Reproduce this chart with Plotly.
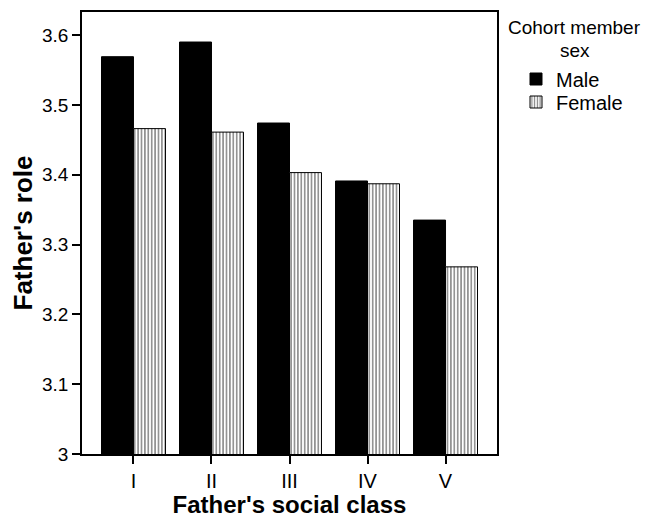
import plotly.graph_objects as go

categories = ["I", "II", "III", "IV", "V"]
male = [3.569, 3.590, 3.474, 3.391, 3.335]
female = [3.466, 3.461, 3.403, 3.387, 3.268]
y_ticks = [3, 3.1, 3.2, 3.3, 3.4, 3.5, 3.6]
y_tick_labels = ["3", "3.1", "3.2", "3.3", "3.4", "3.5", "3.6"]

FONT = "Liberation Sans, Arial, sans-serif"

# page has an 8px body margin; size figure so that it fills the 650x518 window
W, H = 642, 510
L, R, T, B = 74, 153, 4, 64
PW, PH = W - L - R, H - T - B


def px_x(px):
    return (px - L) / PW


def px_y(py):
    return 1 - (py - T) / PH


fig = go.Figure()
fig.add_trace(go.Bar(
    x=categories, y=male, name="Male", legend="legend",
    marker=dict(color="black", line=dict(color="black", width=1)),
))
fig.add_trace(go.Bar(
    x=categories, y=female, name="Female", legend="legend2",
    marker=dict(color="white", line=dict(color="black", width=1),
                pattern=dict(shape="|", fgcolor="black", bgcolor="white",
                             size=3.4, solidity=0.42)),
))

legend_common = dict(
    xanchor="left", yanchor="middle",
    font=dict(family=FONT, size=20, color="black"),
    bgcolor="rgba(0,0,0,0)", borderwidth=0,
    tracegroupgap=0, itemwidth=30,
)

fig.update_layout(
    width=W, height=H,
    margin=dict(l=L, r=R, t=T, b=B, autoexpand=False),
    paper_bgcolor="white", plot_bgcolor="white",
    barmode="group", bargap=0.18, bargroupgap=0,
    font=dict(family=FONT, color="black", size=20),
    showlegend=True,
    legend=dict(x=px_x(508), y=px_y(71), **legend_common),
    legend2=dict(x=px_x(508), y=px_y(94), **legend_common),
    annotations=[
        dict(text="Cohort member", xref="paper", yref="paper",
             x=px_x(566), y=px_y(20), xanchor="center", yanchor="middle",
             showarrow=False, font=dict(family=FONT, size=19, color="black")),
        dict(text="sex", xref="paper", yref="paper",
             x=px_x(567), y=px_y(42), xanchor="center", yanchor="middle",
             showarrow=False, font=dict(family=FONT, size=19, color="black")),
    ],
    xaxis=dict(
        range=[-0.66, 4.66],
        showline=True, linecolor="black", linewidth=1.5, mirror=True,
        ticks="outside", ticklen=8, tickwidth=1.5, tickcolor="black",
        tickfont=dict(family=FONT, size=20, color="black"),
        showgrid=False, zeroline=False,
        title=dict(text="<b>Father's social class</b>", standoff=2,
                   font=dict(family=FONT, size=24, color="black")),
    ),
    yaxis=dict(
        range=[3, 3.633],
        tickvals=y_ticks, ticktext=y_tick_labels,
        showline=True, linecolor="black", linewidth=1.5, mirror=True,
        ticks="outside", ticklen=8, tickwidth=1.5, tickcolor="black",
        tickfont=dict(family=FONT, size=19, color="black"),
        showgrid=False, zeroline=False,
        title=dict(text="<b>Father's role</b>", standoff=6,
                   font=dict(family=FONT, size=26, color="black")),
    ),
)

fig.write_html("out.html")
